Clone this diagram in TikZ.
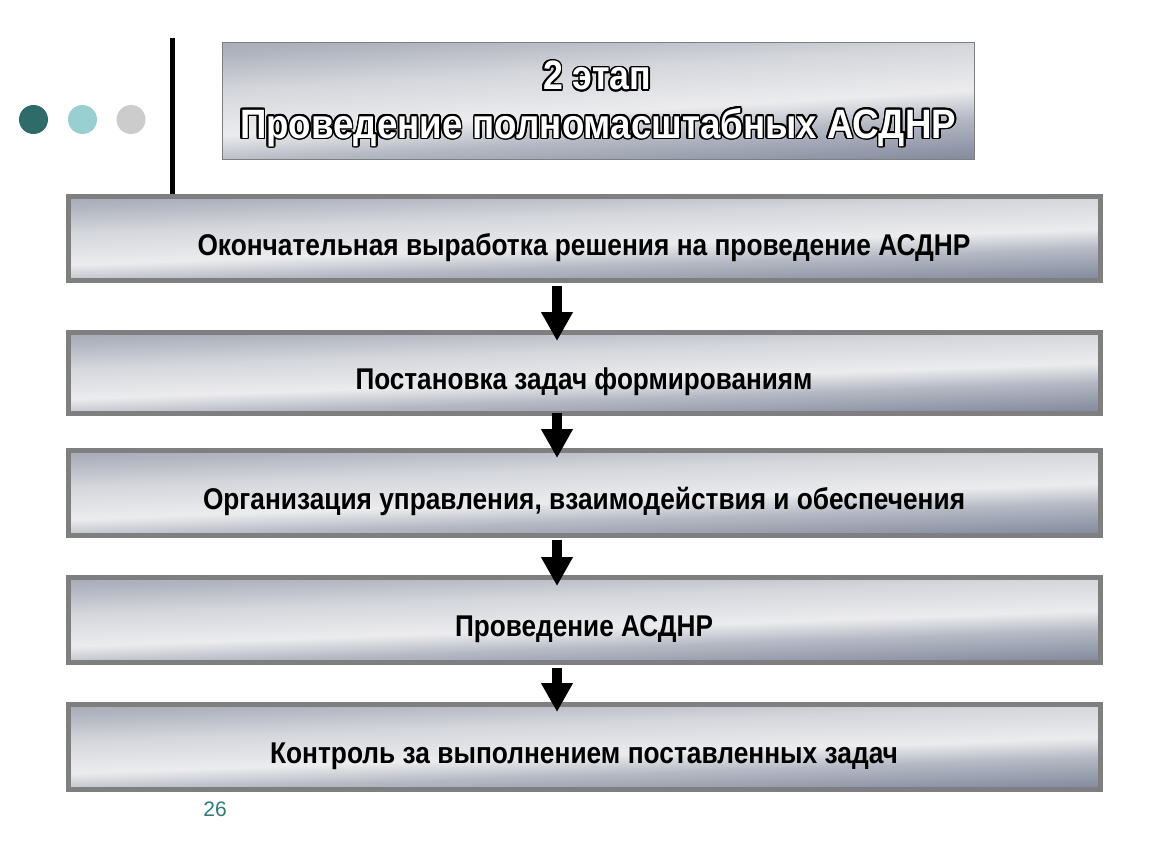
\documentclass[tikz,border=0pt]{standalone}
\usepackage{fontspec}
\setmainfont{Liberation Sans}
\usepackage{contour}
\contourlength{1.6pt}
\usetikzlibrary{arrows.meta,calc}
\definecolor{frame}{HTML}{7F7F7F}
\definecolor{dotA}{HTML}{2E6B69}
\definecolor{dotB}{HTML}{99CFD0}
\definecolor{dotC}{HTML}{CCCCCC}
\definecolor{pgnum}{HTML}{2F7B78}
\definecolor{s01}{HTML}{E2E2E5}
\definecolor{s02}{HTML}{D6D7DC}
\definecolor{s03}{HTML}{B0B4BF}
\definecolor{s04}{HTML}{868DA0}
\definecolor{s05}{HTML}{B5B9C4}
\definecolor{s06}{HTML}{ECECEE}
\definecolor{s07}{HTML}{D4D6DB}
\definecolor{s08}{HTML}{B0B4C0}
\definecolor{s09}{HTML}{959BAB}
\definecolor{s10}{HTML}{7F879A}
\definecolor{s11}{HTML}{A9AEBB}
\definecolor{s12}{HTML}{CACDD3}
\pgfdeclareverticalshading{metal}{100bp}{color(0bp)=(s01); color(8.3bp)=(s01); color(14.3bp)=(s02); color(23.2bp)=(s03); color(33.3bp)=(s04); color(41.7bp)=(s05); color(47.6bp)=(s06); color(57.1bp)=(s07); color(64.9bp)=(s08); color(73.8bp)=(s09); color(81bp)=(s10); color(86.9bp)=(s11); color(91.7bp)=(s12); color(100bp)=(s12)}
\newsavebox\fitbox
\newcommand\fitw[2]{\sbox\fitbox{#2}\pgfmathsetmacro\fitscale{#1/\the\wd\fitbox}\scalebox{\fitscale}[1]{\usebox\fitbox}}
\newcommand\fitc[2]{\sbox\fitbox{#2}\pgfmathsetmacro\fitscale{#1/\the\wd\fitbox}\edef\fitscalex{\fitscale}\contour{black}{\scalebox{\fitscalex}[1]{#2}}}
% metallic fill: vertical shading fitted to the box, slanted by slope #1
\newcommand\metalfill[1]{%
  \pgfpointdiff{\pgfpointanchor{path picture bounding box}{south west}}{\pgfpointanchor{path picture bounding box}{north east}}%
  \pgfgetlastxy{\mw}{\mh}%
  \pgfmathsetmacro\msx{abs(\mw)/25.09}%
  \pgfmathsetmacro\msy{abs(\mh)/25.09}%
  \pgfmathsetmacro\msk{#1*\msx}%
  \pgftransformshift{\pgfpointanchor{path picture bounding box}{center}}%
  \pgftransformcm{\msx}{\msk}{0}{\msy}{\pgfpointorigin}%
  \pgflowlevelsynccm
  \pgfuseshading{metal}}
\tikzset{
  stagebox/.style={rectangle, draw=frame, line width=5pt, path picture={\metalfill{0.035}},
    minimum width=1032pt, inner sep=0pt, outer sep=2.5pt},
  titlebox/.style={rectangle, draw=frame, line width=1.2pt, path picture={\metalfill{0.06}},
    minimum width=751.8pt, minimum height=116.8pt, inner sep=0pt, outer sep=0.6pt},
  lbl/.style={font=\bfseries\fontsize{30}{36}\selectfont, anchor=base, inner sep=0pt},
  ttl/.style={font=\bfseries\fontsize{41}{50}\selectfont, text=white, anchor=base, inner sep=0pt},
  flow/.style={line width=10pt, -{Triangle[width=30pt,length=29pt]}},
}
\begin{document}
\begin{tikzpicture}[x=1pt,y=-1pt]
\useasboundingbox (0,0) rectangle (1150,864);
\fill[white] (0,0) rectangle (1150,864);
% decorations
\fill[dotA] (33.5,119.5) circle[radius=14.5pt];
\fill[dotB] (82.5,119.5) circle[radius=14.5pt];
\fill[dotC] (131,119.5) circle[radius=14.5pt];
\fill[black] (170,38) rectangle (175,194);
% title
\node[titlebox] (title) at (598.5,101) {};
\node[ttl] (ttl1) at (597,90) {\fitc{108pt}{2 этап}};
\node[ttl] (ttl2) at (598,138) {\fitc{716pt}{Проведение полномасштабных АСДНР}};
% stages
\node[stagebox, minimum height=84pt] (b1) at (584.5,238.5) {};
\node[stagebox, minimum height=81pt] (b2) at (584.5,373) {};
\node[stagebox, minimum height=85pt] (b3) at (584.5,493) {};
\node[stagebox, minimum height=85pt] (b4) at (584.5,620) {};
\node[stagebox, minimum height=85pt] (b5) at (584.5,747) {};
\node[lbl] (t1) at (584,255) {\fitw{773pt}{Окончательная выработка решения на проведение АСДНР}};
\node[lbl] (t2) at (584,389.5) {\fitw{457pt}{Постановка задач формированиям}};
\node[lbl] (t3) at (584,509.5) {\fitw{762pt}{Организация управления, взаимодействия и обеспечения}};
\node[lbl] (t4) at (584,636.5) {\fitw{258pt}{Проведение АСДНР}};
\node[lbl] (t5) at (584,763.5) {\fitw{628pt}{Контроль за выполнением поставленных задач}};
% arrows
\draw[flow] ($(b1.south)+(-27.5,3)$) -- ($(b2.north)+(-27.5,11)$);
\draw[flow] ($(b2.south)+(-27.5,-3)$) -- ($(b3.north)+(-27.5,10)$);
\draw[flow] ($(b3.south)+(-27.5,2)$) -- ($(b4.north)+(-27.5,11)$);
\draw[flow] ($(b4.south)+(-27.5,3)$) -- ($(b5.north)+(-27.5,10)$);
% page number
\node[font=\fontsize{21}{24}\selectfont, text=pgnum, anchor=base, inner sep=0pt] (pg) at (215,816) {26};
\end{tikzpicture}
\end{document}
